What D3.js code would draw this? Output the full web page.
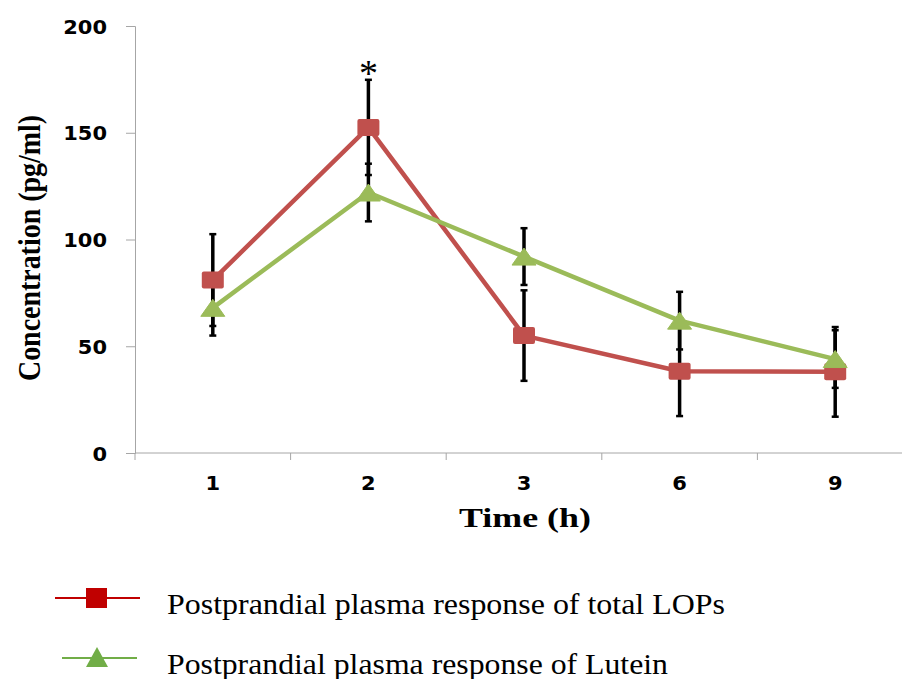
<!DOCTYPE html>
<html lang="en">
<head>
<meta charset="utf-8">
<script src="https://cdn.jsdelivr.net/npm/d3@7"></script>
<style type="text/css">
body {
	margin: 0;
	background: white;
}
.tick text {
	font-family: "DejaVu Sans", Verdana, sans-serif;
	font-weight: bold;
	fill: black;
}
.serif {
	font-family: "Liberation Serif", "Times New Roman", serif;
}
</style>
</head>
<body>
<script type="text/javascript">

// chart data
var times = ["1", "2", "3", "6", "9"];
var lopMean = [81, 152.5, 55, 38.3, 38];
var lopErr = [21.5, 22.3, 21.2, 21, 21];
var lutMean = [68, 122, 92, 62, 44];
var lutErr = [13, 13.5, 13.3, 13.5, 13.5];
var yTicks = [0, 50, 100, 150, 200];
var starAt = "2";

var width = 902;
var height = 679;
var digitW = 14.6;

var svg = d3.select("body")
			.append("svg")
			.attr("width", width)
			.attr("height", height);

// scales
var x = d3.scaleBand()
		  .domain(times)
		  .range([135, 913]);

var y = d3.scaleLinear()
		  .domain([0, 200])
		  .range([453, 26]);

var cx = function(t) { return x(t) + x.bandwidth() / 2; };

// y axis
var yAxis = svg.append("g")
			   .attr("transform", "translate(135,0)")
			   .call(d3.axisLeft(y).tickValues(yTicks).tickSize(9));
yAxis.select(".domain").attr("stroke", "#a6a6a6");
yAxis.selectAll(".tick line").attr("stroke", "#a6a6a6");
yAxis.selectAll(".tick text")
	 .attr("font-size", 20)
	 .attr("text-anchor", "start")
	 .attr("x", function(d) { return -28 - String(d).length * digitW; })
	 .attr("dy", "0.36em")
	 .attr("textLength", function(d) { return String(d).length * digitW; })
	 .attr("lengthAdjust", "spacingAndGlyphs");

// x axis: ticks between categories like excel
var xAxis = svg.append("g")
			   .attr("transform", "translate(0,453)");
xAxis.append("line")
	 .attr("x1", 135).attr("x2", width)
	 .attr("stroke", "#a6a6a6");
xAxis.selectAll(".xtick")
	 .data(times)
	 .enter()
	 .append("line")
	 .attr("x1", function(d) { return x(d); })
	 .attr("x2", function(d) { return x(d); })
	 .attr("y1", 0).attr("y2", 7)
	 .attr("stroke", "#a6a6a6");
xAxis.selectAll(".tick")
	 .data(times)
	 .enter()
	 .append("g")
	 .attr("class", "tick")
	 .append("text")
	 .attr("x", function(d) { return cx(d) - digitW / 2; })
	 .attr("y", 37)
	 .attr("font-size", 20)
	 .attr("textLength", digitW)
	 .attr("lengthAdjust", "spacingAndGlyphs")
	 .text(function(d) { return d; });

// axis titles
svg.append("text")
   .attr("class", "serif")
   .attr("x", 525).attr("y", 527)
   .attr("text-anchor", "middle")
   .attr("font-size", 28)
   .attr("font-weight", "bold")
   .attr("textLength", 132)
   .attr("lengthAdjust", "spacingAndGlyphs")
   .text("Time (h)");

svg.append("text")
   .attr("class", "serif")
   .attr("transform", "translate(40,248) rotate(-90)")
   .attr("text-anchor", "middle")
   .attr("font-size", 32)
   .attr("font-weight", "bold")
   .attr("textLength", 266)
   .attr("lengthAdjust", "spacingAndGlyphs")
   .text("Concentration (pg/ml)");

var line = d3.line()
			 .x(function(d) { return cx(d.t); })
			 .y(function(d) { return y(d.v); });

var lop = times.map(function(t, i) { return {t: t, v: lopMean[i], e: lopErr[i]}; });
var lut = times.map(function(t, i) { return {t: t, v: lutMean[i], e: lutErr[i]}; });

var red = "#c0504d";
var green = "#9bbb59";

svg.append("path")
   .datum(lop)
   .attr("d", line)
   .attr("fill", "none")
   .attr("stroke", red)
   .attr("stroke-width", 4.5)
   .attr("stroke-linejoin", "round");

svg.append("path")
   .datum(lut)
   .attr("d", line)
   .attr("fill", "none")
   .attr("stroke", green)
   .attr("stroke-width", 4.5)
   .attr("stroke-linejoin", "round");

// error bars
function errBars(data) {
	var g = svg.append("g").attr("stroke", "black").attr("fill", "none");
	g.selectAll("line.bar")
	 .data(data)
	 .enter()
	 .append("line")
	 .attr("x1", function(d) { return cx(d.t); })
	 .attr("x2", function(d) { return cx(d.t); })
	 .attr("y1", function(d) { return y(d.v + d.e); })
	 .attr("y2", function(d) { return y(d.v - d.e); })
	 .attr("stroke-width", 3.5);
	[1, -1].forEach(function(s) {
		g.selectAll(null)
		 .data(data)
		 .enter()
		 .append("line")
		 .attr("x1", function(d) { return cx(d.t) - 3.5; })
		 .attr("x2", function(d) { return cx(d.t) + 3.5; })
		 .attr("y1", function(d) { return y(d.v + s * d.e); })
		 .attr("y2", function(d) { return y(d.v + s * d.e); })
		 .attr("stroke-width", 2.5);
	});
}
errBars(lop);
errBars(lut);

// markers
svg.selectAll(".sq")
   .data(lop)
   .enter()
   .append("rect")
   .attr("x", function(d) { return cx(d.t) - 11; })
   .attr("y", function(d) { return y(d.v) - 8.5; })
   .attr("width", 22)
   .attr("height", 17)
   .attr("rx", 2)
   .attr("fill", red);

var tri = function(px, py, w, h) {
	return "M" + px + "," + (py - h / 2) + "L" + (px + w / 2) + "," + (py + h / 2) + "L" + (px - w / 2) + "," + (py + h / 2) + "Z";
};

svg.selectAll(".tri")
   .data(lut)
   .enter()
   .append("path")
   .attr("d", function(d) { return tri(cx(d.t), y(d.v), 24, 17); })
   .attr("fill", green)
   .attr("stroke", green)
   .attr("stroke-linejoin", "round");

// significance star
svg.append("text")
   .attr("class", "serif")
   .attr("x", cx(starAt))
   .attr("y", 86)
   .attr("text-anchor", "middle")
   .attr("font-size", 38)
   .text("*");

// legend
var legend = [
	{label: "Postprandial plasma response of total LOPs", color: "#c00000", shape: "square", y: 598, x1: 55, x2: 140, len: 558},
	{label: "Postprandial plasma response of Lutein", color: "#71ad47", shape: "triangle", y: 658, x1: 62, x2: 137, len: 501}
];

var lg = svg.selectAll(".legend")
			.data(legend)
			.enter()
			.append("g");

lg.append("line")
  .attr("x1", function(d) { return d.x1; })
  .attr("x2", function(d) { return d.x2; })
  .attr("y1", function(d) { return d.y; })
  .attr("y2", function(d) { return d.y; })
  .attr("stroke", function(d) { return d.color; })
  .attr("stroke-width", 2);

lg.append("path")
  .attr("d", function(d) {
	if (d.shape == "square") return "M86," + (d.y - 10) + "h21v20h-21Z";
	return tri(97, d.y - 1, 22, 20);
  })
  .attr("fill", function(d) { return d.color; });

lg.append("text")
  .attr("class", "serif")
  .attr("x", 167)
  .attr("y", function(d) { return d.y + 16; })
  .attr("font-size", 30)
  .attr("textLength", function(d) { return d.len; })
  .attr("lengthAdjust", "spacingAndGlyphs")
  .text(function(d) { return d.label; });

</script>
</body>
</html>
